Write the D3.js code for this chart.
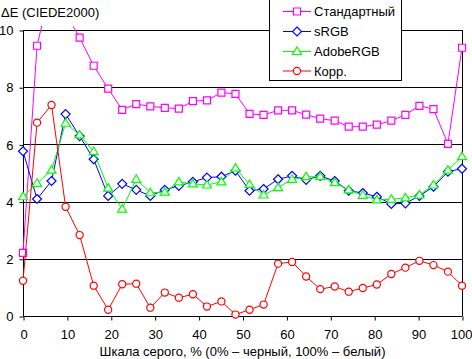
<!DOCTYPE html>
<html>
<head>
<meta charset="utf-8">
<script src="https://cdn.jsdelivr.net/npm/d3@7"></script>
<style>
  html, body { margin: 0; padding: 0; background: #fff; }
  svg { display: block; }
  text { font-family: "Liberation Sans", Arial, sans-serif; font-size: 13px; fill: #000; }
</style>
</head>
<body>
<svg id="chart" width="472" height="359"></svg>
<script>
const grayLevels = [0, 3.2, 6.5, 9.7, 12.9, 16.1, 19.4, 22.6, 25.8, 29.0, 32.3, 35.5, 38.7, 41.9, 45.2, 48.4,
                    51.6, 54.8, 58.1, 61.3, 64.5, 67.7, 71.0, 74.2, 77.4, 80.6, 83.9, 87.1, 90.3, 93.5, 96.8, 100];
const standard = [2.21, 9.45, 11.6, 10.6, 9.73, 8.75, 7.95, 7.21, 7.41, 7.33, 7.28, 7.25, 7.51, 7.54, 7.81, 7.77,
                  7.07, 7.03, 7.19, 7.19, 7.04, 6.90, 6.83, 6.62, 6.62, 6.69, 6.83, 7.03, 7.35, 7.23, 6.02, 9.38];
const srgb = [5.76, 4.09, 4.72, 7.06, 6.29, 5.48, 4.20, 4.62, 4.41, 4.20, 4.41, 4.55, 4.69, 4.84, 4.87, 5.08,
              4.38, 4.44, 4.78, 4.90, 4.76, 4.90, 4.72, 4.38, 4.30, 4.17, 3.92, 3.94, 4.20, 4.52, 5.05, 5.15];
const adobe = [4.17, 4.64, 5.10, 6.74, 6.33, 5.75, 4.47, 3.74, 4.78, 4.31, 4.33, 4.69, 4.62, 4.58, 4.69, 5.17,
               4.60, 4.23, 4.49, 4.78, 4.87, 4.87, 4.66, 4.41, 4.22, 4.06, 4.08, 4.13, 4.23, 4.58, 5.10, 5.57];
const korr = [1.23, 6.76, 7.38, 3.82, 2.83, 1.06, 0.22, 1.11, 1.13, 0.29, 0.82, 0.64, 0.76, 0.33, 0.51, 0.05,
              0.22, 0.40, 1.83, 1.89, 1.38, 0.94, 1.03, 0.85, 0.98, 1.10, 1.47, 1.69, 1.93, 1.78, 1.55, 1.06];
const seriesNames = ["Стандартный", "sRGB", "AdobeRGB", "Корр."];
const xTicks = [0, 10, 20, 30, 40, 50, 60, 70, 80, 90, 100];
const yTicks = [0, 2, 4, 6, 8, 10];
const yTitle = "ΔE (CIEDE2000)";
const xTitle = "Шкала серого, % (0% – черный, 100% – белый)";

const series = [
  { name: seriesNames[0], values: standard, color: "#ff00ff", marker: "square" },
  { name: seriesNames[1], values: srgb, color: "#0000ff", marker: "diamond" },
  { name: seriesNames[2], values: adobe, color: "#00ff00", marker: "triangle" },
  { name: seriesNames[3], values: korr, color: "#ff0000", marker: "circle" }
];

const svg = d3.select("#chart");
const L = 23, R = 462, T = 30, B = 316;
const x = d3.scaleLinear().domain([0, 100]).range([L, R]);
const y = d3.scaleLinear().domain([0, 10]).range([B, T]);

// grid lines
svg.append("g").selectAll("line").data(yTicks.filter(d => d > 0)).join("line")
  .attr("x1", L).attr("x2", R)
  .attr("y1", d => Math.round(y(d)) + 0.5).attr("y2", d => Math.round(y(d)) + 0.5)
  .attr("stroke", "#000").attr("stroke-width", 1);

// right border
svg.append("line").attr("x1", R + 0.5).attr("x2", R + 0.5).attr("y1", T).attr("y2", B)
  .attr("stroke", "#000");

// axes
const yAxis = svg.append("g").attr("transform", `translate(${L + 0.5},0.5)`)
  .call(d3.axisLeft(y).tickValues(yTicks).tickSize(4).tickPadding(6).tickFormat(d3.format("d")));
const xAxis = svg.append("g").attr("transform", `translate(0.5,${B + 0.5})`)
  .call(d3.axisBottom(x).tickValues(xTicks).tickSize(4).tickPadding(9).tickFormat(d3.format("d")));
[yAxis, xAxis].forEach(a => {
  a.select(".domain").attr("stroke", "#000");
  a.selectAll(".tick line").attr("stroke", "#000");
  a.selectAll("text").attr("font-family", "Liberation Sans, Arial, sans-serif").attr("font-size", 13).attr("fill", "#000");
});
yAxis.select(".domain").attr("d", `M0,${T}V${B}`);
xAxis.select(".domain").attr("d", `M${L},0H${R}`);
// keep the last tick label inside the picture
xAxis.selectAll(".tick text").filter(d => d === 100).attr("text-anchor", "end").attr("x", 9.5);

// clip
svg.append("defs").append("clipPath").attr("id", "plotclip")
  .append("rect").attr("x", 0).attr("y", T - 4).attr("width", 472).attr("height", B - T + 20);

function markerPath(type) {
  if (type === "square") return "M-3.5,-3.5H3.5V3.5H-3.5Z";
  if (type === "diamond") return "M0,-4.5L4.5,0L0,4.5L-4.5,0Z";
  if (type === "triangle") return "M0,-4.5L4.5,3L-4.5,3Z";
  return d3.symbol(d3.symbolCircle, 40)();
}

const plot = svg.append("g").attr("clip-path", "url(#plotclip)");
const line = d3.line().x((d, i) => x(grayLevels[i])).y(d => y(d));
series.forEach(s => {
  const g = plot.append("g");
  g.append("path").datum(s.values).attr("d", line)
    .attr("fill", "none").attr("stroke", s.color).attr("stroke-width", 1);
  g.selectAll("path.m").data(s.values).join("path").attr("class", "m")
    .attr("transform", (d, i) => `translate(${x(grayLevels[i])},${y(d)})`)
    .attr("d", markerPath(s.marker))
    .attr("fill", "#fff").attr("stroke", s.color).attr("stroke-width", 1.2);
});

// titles
svg.append("text").attr("x", 1).attr("y", 17).text(yTitle);
svg.append("text").attr("x", (L + R) / 2).attr("y", 356).attr("text-anchor", "middle").text(xTitle);

// legend
const lg = svg.append("g");
lg.append("rect").attr("x", 269.5).attr("y", -0.5).attr("width", 132).attr("height", 81)
  .attr("fill", "#fff").attr("stroke", "#000");
const rowY = [11, 31, 51, 70.5];
series.forEach((s, i) => {
  const r = lg.append("g").attr("transform", `translate(0,${rowY[i]})`);
  r.append("line").attr("x1", 283).attr("x2", 311).attr("y1", 0.5).attr("y2", 0.5)
    .attr("stroke", s.color);
  r.append("path").attr("transform", "translate(297,0.5)").attr("d", markerPath(s.marker))
    .attr("fill", "#fff").attr("stroke", s.color).attr("stroke-width", 1.2);
  r.append("text").attr("x", 314).attr("y", 5).text(s.name);
});
</script>
</body>
</html>
